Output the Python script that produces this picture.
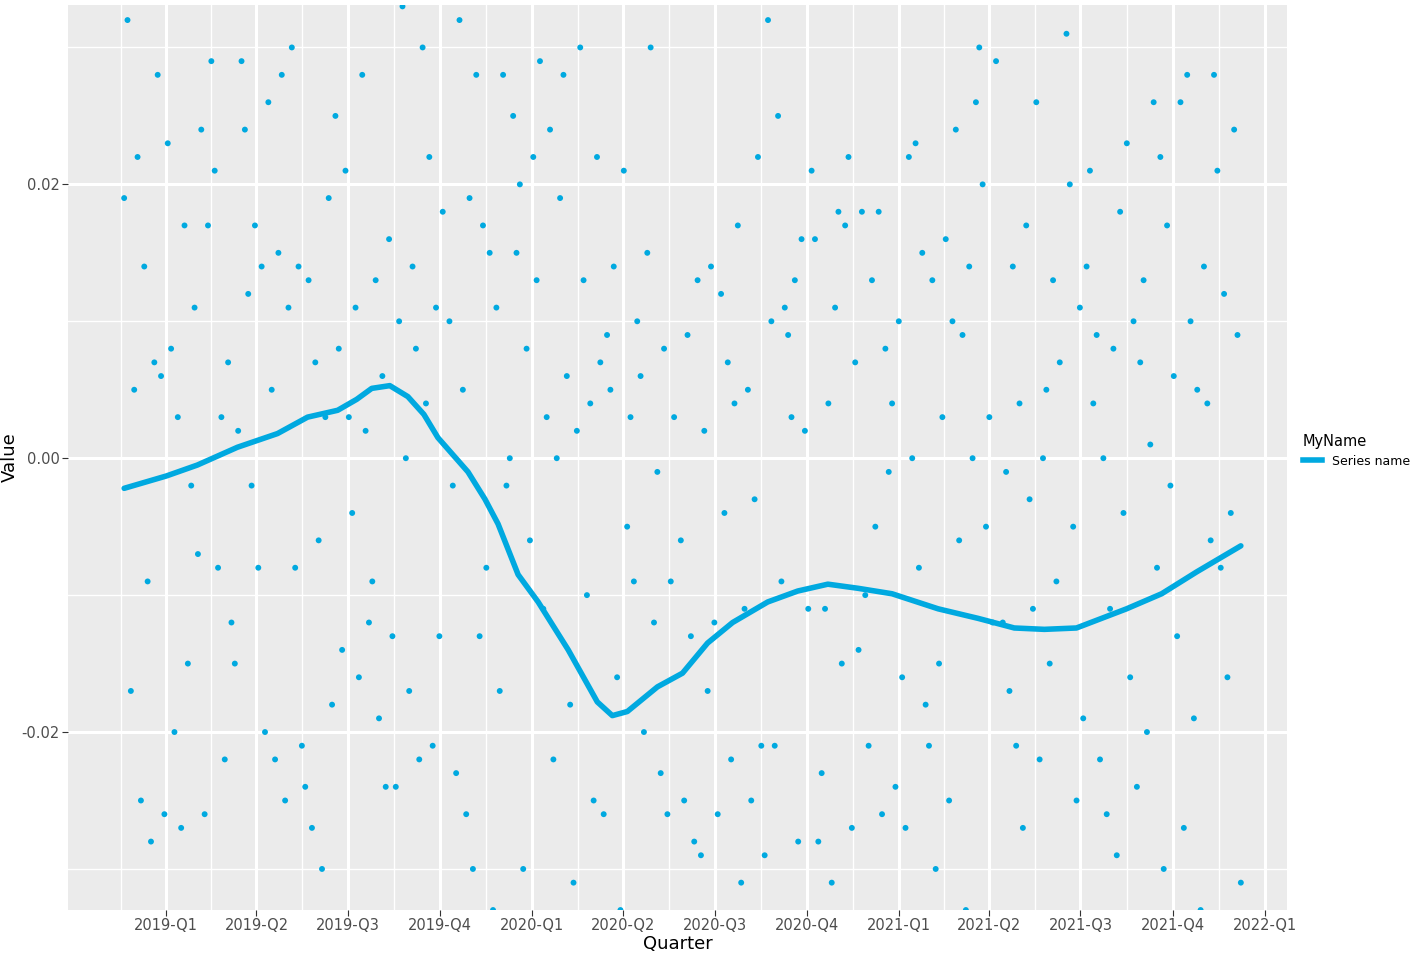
import numpy as np, pandas as pd, matplotlib
matplotlib.use("Agg")
import matplotlib.pyplot as plt, seaborn as sns
from matplotlib.lines import Line2D

# scatter values (thousandths), evenly spaced days from start to end
point_vals = [19, 32, -17, 5, 22, -25, 14, -9, -28, 7,
 28, 6, -26, 23, 8, -20, 3, -27, 17, -15, -2, 11, -7, 24, -26, 17, 29, 21, -8, 3, -22, 7, -12,
 -15, 2, 29, 24, 12, -2, 17, -8, 14, -20, 26, 5, -22, 15, 28, -25, 11, 30, -8, 14, -21, -24, 13,
 -27, 7, -6, -30, 3, 19, -18, 25, 8, -14, 21, 3, -4, 11, -16, 28, 2, -12, -9, 13, -19, 6, -24,
 16, -13, -24, 10, 33, 0, -17, 14, 8, -22, 30, 4, 22, -21, 11, -13, 18, 36, 10, -2, -23, 32, 5,
 -26, 19, -30, 28, -13, 17, -8, 15, -33, 11, -17, 28, -2, 0, 25, 15, 20, -30, 8, -6, 22, 13, 29,
 -11, 3, 24, -22, 0, 19, 28, 6, -18, -31, 2, 30, 13, -10, 4, -25, 22, 7, -26, 9, 5, 14, -16,
 -33, 21, -5, 3, -9, 10, 6, -20, 15, 30, -12, -1, -23, 8, -26, -9, 3, -34, -6, -25, 9, -13, -28,
 13, -29, 2, -17, 14, -12, -26, 12, -4, 7, -22, 4, 17, -31, -11, 5, -25, -3, 22, -21, -29, 32, 10,
 -21, 25, -9, 11, 9, 3, 13, -28, 16, 2, -11, 21, 16, -28, -23, -11, 4, -31, 11, 18, -15, 17, 22,
 -27, 7, -14, 18, -10, -21, 13, -5, 18, -26, 8, -1, 4, -24, 10, -16, -27, 22, 0, 23, -8, 15, -18,
 -21, 13, -30, -15, 3, 16, -25, 10, 24, -6, 9, -33, 14, 0, 26, 30, 20, -5, 3, -12, 29, 35, -12,
 -1, -17, 14, -21, 4, -27, 17, -3, -11, 26, -22, 0, 5, -15, 13, -9, 7, -34, 31, 20, -5, -25, 11,
 -19, 14, 21, 4, 9, -22, 0, -26, -11, 8, -29, 18, -4, 23, -16, 10, -24, 7, 13, -20, 1, 26, -8,
 22, -30, 17, -2, 6, -13, 26, -27, 28, 10, -19, 5, -33, 14, 4, -6, 28, 21, -8, 12, -16, -4, 24, 9, -31]
start_date, end_date = "2018-11-20", "2021-12-08"

smooth_dates = ["2018-11-20","2019-01-01","2019-02-01","2019-03-13","2019-04-22","2019-05-22","2019-06-21",
 "2019-07-10","2019-07-25","2019-08-12","2019-08-30","2019-09-15","2019-09-29","2019-10-29","2019-11-15","2019-11-28","2019-12-18",
 "2020-01-07","2020-02-06","2020-03-06","2020-03-21","2020-04-05","2020-05-05","2020-05-30",
 "2020-06-24","2020-07-19","2020-08-23","2020-09-22","2020-10-22","2020-11-21","2020-12-25",
 "2021-02-09","2021-03-21","2021-04-26","2021-05-26","2021-06-27","2021-08-16","2021-09-20",
 "2021-10-25","2021-12-08"]
smooth_vals = [-0.0022,-0.0013,-0.0005,0.0008,0.0018,0.0030,0.0035,0.0043,0.0051,0.0053,0.0045,0.0032,0.0015,-0.0010,
 -0.0030,-0.0048,-0.0085,-0.0105,-0.0140,-0.0178,-0.0188,-0.0185,-0.0167,-0.0157,-0.0135,-0.0120,
 -0.0105,-0.0097,-0.0092,-0.0095,-0.0099,-0.0110,-0.0117,-0.0124,-0.0125,-0.0124,-0.0110,
 -0.0099,-0.0083,-0.0064]

quarter_ticks = ["2019-01-01","2019-04-01","2019-07-01","2019-10-01","2020-01-01","2020-04-01",
 "2020-07-01","2020-10-01","2021-01-01","2021-04-01","2021-07-01","2021-10-01","2022-01-01"]
quarter_labels = ["2019-Q1","2019-Q2","2019-Q3","2019-Q4","2020-Q1","2020-Q2","2020-Q3",
 "2020-Q4","2021-Q1","2021-Q2","2021-Q3","2021-Q4","2022-Q1"]

col = "#00A9E0"
pts = pd.DataFrame({"date": pd.date_range(start_date, end_date, periods=len(point_vals)),
                    "value": np.array(point_vals) / 1000})
sm = pd.DataFrame({"date": pd.to_datetime(smooth_dates), "value": smooth_vals})

fig = plt.figure(figsize=(14.23, 9.63), dpi=100)
ax = fig.add_axes([0.0478, 0.055, 0.8566, 0.9398])
ax.set_facecolor("#EBEBEB")
sns.scatterplot(data=pts, x="date", y="value", color=col, s=18, edgecolor="none", ax=ax, zorder=3)
sns.lineplot(data=sm, x="date", y="value", color=col, lw=4, ax=ax, zorder=4,
             solid_joinstyle="round", solid_capstyle="round")

qt = pd.to_datetime(quarter_ticks)
ax.set_xticks(qt)
ax.set_xticklabels(quarter_labels)
mids = qt[:-1] + (qt[1:] - qt[:-1]) / 2
ax.set_xticks(list(mids) + [qt[0] - (qt[1]-qt[0])/2], minor=True)
ax.set_yticks([-0.02, 0, 0.02])
ax.set_yticklabels(["-0.02", "0.00", "0.02"])
ax.set_yticks([-0.03, -0.01, 0.01, 0.03], minor=True)
ax.set_xlim(pd.Timestamp("2018-09-25"), pd.Timestamp("2022-01-23"))
ax.set_ylim(-0.033, 0.0331)
ax.grid(which="major", color="white", lw=2.2)
ax.grid(which="minor", color="white", lw=1.0)
ax.set_axisbelow(True)
for s in ax.spines.values(): s.set_visible(False)
ax.tick_params(which="both", length=4, color="#333333", labelsize=10.5, labelcolor="#4D4D4D", pad=2)
ax.tick_params(which="minor", length=0)
ax.set_xlabel("Quarter", fontsize=13, labelpad=1)
ax.set_ylabel("Value", fontsize=13)
ax.yaxis.set_label_coords(-0.04, 0.5)

h = Line2D([], [], color=col, lw=4)
leg = fig.legend([h], ["Series name"], title="MyName", loc="upper left",
                 bbox_to_anchor=(0.912, 0.555), frameon=False, fontsize=9, title_fontsize=10.5,
                 handlelength=1.5, borderaxespad=0)
leg._legend_box.align = "left"
fig.savefig("out.png", dpi=100)
